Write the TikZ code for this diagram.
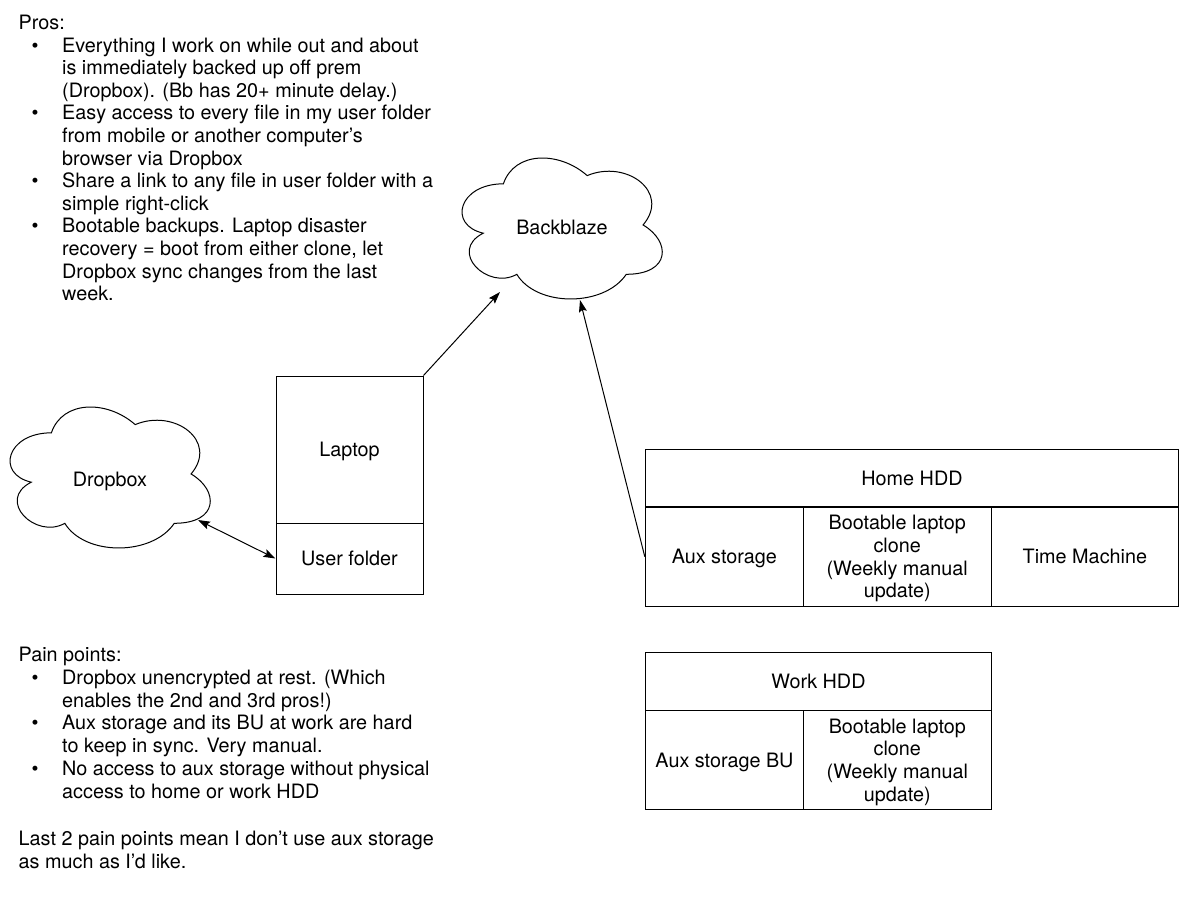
\documentclass[tikz,border=0pt]{standalone}
\usepackage{fontspec}
\setmainfont{TeX Gyre Heros}
\usetikzlibrary{arrows.meta}
\newcommand{\mybul}{\makebox[43.5pt][l]{\hspace*{13pt}\textbullet}}
\newcommand{\myind}{\hspace*{43.5pt}}
\newcommand{\mycloud}[2]{%
  \begin{scope}[shift={(#1,#2)}, x=223.5pt, y=-164.5pt]
    \draw[line width=1pt]
      (0.25,0.25) .. controls (0.05,0.25) and (0,0.5) .. (0.16,0.55)
      .. controls (0,0.66) and (0.18,0.9) .. (0.31,0.8)
      .. controls (0.4,1) and (0.7,1) .. (0.8,0.8)
      .. controls (1,0.8) and (1,0.6) .. (0.875,0.5)
      .. controls (1,0.3) and (0.8,0.1) .. (0.625,0.2)
      .. controls (0.5,0.05) and (0.3,0.05) .. cycle;
  \end{scope}}
\begin{document}
\begin{tikzpicture}[x=1pt,y=-1pt,
  txt/.style={font=\fontsize{19.8}{22.6}\selectfont, inner sep=0pt},
  cell/.style={draw, line width=1pt, inner sep=0pt, align=center,
    font=\fontsize{19.8}{22.7}\selectfont, text depth=0pt},
  one/.style={text height=14.3pt},
  conn/.style={line width=1pt, -{Stealth[length=12pt,width=8pt,inset=2pt]}},
  conn2/.style={line width=1pt, {Stealth[length=12pt,width=8pt,inset=2pt]}-{Stealth[length=12pt,width=8pt,inset=2pt]}}]
\useasboundingbox[fill=white] (0,0) rectangle (1200,900);

% text blocks
\node[txt, anchor=base west] (pros) at (18.5,29.5) {\begin{tabular}[t]{@{}l@{}}
Pros:\\
\mybul Everything I work on while out and about\\
\myind is immediately backed up off prem\\
\myind (Dropbox). (Bb has 20+ minute delay.)\\
\mybul Easy access to every file in my user folder\\
\myind from mobile or another computer’s\\
\myind browser via Dropbox\\
\mybul Share a link to any file in user folder with a\\
\myind simple right-click\\
\mybul Bootable backups. Laptop disaster\\
\myind recovery = boot from either clone, let\\
\myind Dropbox sync changes from the last\\
\myind week.
\end{tabular}};

\node[txt, font=\fontsize{19.8}{22.8}\selectfont, anchor=base west] (pain) at (18.5,661.5) {\begin{tabular}[t]{@{}l@{}}
Pain points:\\
\mybul Dropbox unencrypted at rest. (Which\\
\myind enables the 2nd and 3rd pros!)\\
\mybul Aux storage and its BU at work are hard\\
\myind to keep in sync. Very manual.\\
\mybul No access to aux storage without physical\\
\myind access to home or work HDD\\[2pt]
\\
Last 2 pain points mean I don’t use aux storage\\
as much as I’d like.
\end{tabular}};

% clouds
\mycloud{-4.5}{391.7}
\mycloud{447.5}{142.7}
\node[txt, anchor=base] (dbx) at (110,486) {Dropbox};
\node[txt, anchor=base] (bb) at (562,234) {Backblaze};
\coordinate (dbxp) at (198,520);
\coordinate (bbA) at (500,292);
\coordinate (bbB) at (580,300);

% laptop
\node[cell, one, minimum width=147pt, minimum height=147pt] (laptop) at (349.5,449.5) {Laptop};
\node[cell, one, minimum width=147pt, minimum height=71pt] (uf) at (349.5,558.5) {User folder};

% home HDD
\node[cell, one, minimum width=533.5pt, minimum height=58pt] (home) at (912,478) {Home HDD};
\node[cell, one, minimum width=158pt, minimum height=99.5pt] (aux) at (724.3,556.7) {Aux storage};
\node[cell, minimum width=187.7pt, minimum height=99.5pt] (boot1) at (897.2,556.7) {Bootable laptop\\clone\\(Weekly manual\\update)};
\node[cell, one, minimum width=187.7pt, minimum height=99.5pt] (tm) at (1084.9,556.7) {Time Machine};

% work HDD
\node[cell, one, minimum width=345.7pt, minimum height=58.5pt] (work) at (818.5,681.7) {Work HDD};
\node[cell, one, minimum width=157.7pt, minimum height=98.3pt] (auxbu) at (724.5,760.1) {Aux storage BU};
\node[cell, minimum width=188pt, minimum height=98.3pt] (boot2) at (897.3,760.1) {Bootable laptop\\clone\\(Weekly manual\\update)};

% connectors
\draw[conn2] (dbxp) -- (uf.west);
\draw[conn] (laptop.north east) -- (bbA);
\draw[conn] (aux.west) -- (bbB);
\end{tikzpicture}
\end{document}
